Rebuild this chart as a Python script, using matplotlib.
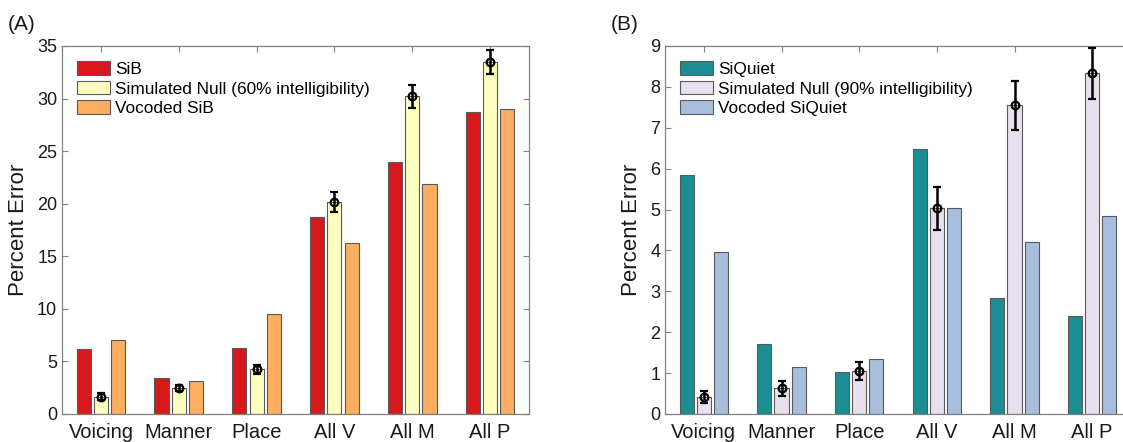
import matplotlib
matplotlib.use("Agg")
import matplotlib.pyplot as plt
import numpy as np

plt.rcParams['font.family'] = ['Liberation Sans', 'DejaVu Sans']

categories = ["Voicing", "Manner", "Place", "All V", "All M", "All P"]

# Panel A
a_sib = [6.2, 3.45, 6.3, 18.7, 24.0, 28.7]
a_null = [1.65, 2.47, 4.25, 20.2, 30.2, 33.5]
a_null_err = [0.3, 0.3, 0.45, 0.95, 1.1, 1.15]
a_voc = [7.0, 3.15, 9.5, 16.3, 21.9, 29.0]
a_labels = ["SiB", "Simulated Null (60% intelligibility)", "Vocoded SiB"]
a_colors = ["#D7191C", "#FFFFBF", "#FDAE61"]

# Panel B
b_quiet = [5.85, 1.72, 1.03, 6.47, 2.83, 2.4]
b_null = [0.42, 0.63, 1.05, 5.03, 7.55, 8.33]
b_null_err = [0.15, 0.18, 0.22, 0.52, 0.6, 0.62]
b_voc = [3.95, 1.15, 1.35, 5.05, 4.2, 4.85]
b_labels = ["SiQuiet", "Simulated Null (90% intelligibility)", "Vocoded SiQuiet"]
b_colors = ["#1B8E93", "#E9E0EF", "#A7BEDC"]

W, H = 1123, 442
fig = plt.figure(figsize=(W / 100, H / 100), dpi=100)

def make_axes(left_px, right_px):
    return fig.add_axes([left_px / W, 1 - 414 / H, (right_px - left_px) / W, (414 - 46) / H])

def panel(ax, s1, s2, err, s3, labels, colors, ymax, yticks, tag):
    x = np.arange(1, len(categories) + 1)
    off = 0.222
    w = 0.182
    ec = "#5a5a5a"
    b1 = ax.bar(x - off, s1, w, color=colors[0], edgecolor=ec, linewidth=0.8, label=labels[0], zorder=2)
    b2 = ax.bar(x, s2, w, color=colors[1], edgecolor=ec, linewidth=0.8, label=labels[1], zorder=2)
    b3 = ax.bar(x + off, s3, w, color=colors[2], edgecolor=ec, linewidth=0.8, label=labels[2], zorder=2)
    ax.errorbar(x, s2, yerr=err, fmt='o', color='black', mfc='none', mec='black',
                ms=5.5, mew=1.6, elinewidth=1.8, capsize=3.2, capthick=1.8, zorder=3)
    ax.set_xlim(0.5, 6.5)
    ax.set_ylim(0, ymax)
    ax.set_yticks(yticks)
    ax.set_xticks(x)
    ax.set_xticklabels(categories, fontsize=14.5, color="#1a1a1a")
    ax.tick_params(axis='y', labelsize=13, labelcolor="#1a1a1a")
    ax.tick_params(direction='in', top=True, right=True, length=4, color="#808080", width=0.8)
    ax.tick_params(axis='x', pad=6.5)
    for sp in ax.spines.values():
        sp.set_color("#808080")
        sp.set_linewidth(0.9)
    ax.set_ylabel("Percent Error", fontsize=16, color="#1a1a1a", labelpad=6)
    leg = ax.legend(handles=[b1, b2, b3], loc='upper left', bbox_to_anchor=(15 / 467, 0.958),
                    frameon=False, fontsize=12.4, handlelength=1.9, handleheight=0.85,
                    handletextpad=0.3, labelspacing=0.2, borderpad=0, borderaxespad=0)
    for p in leg.get_patches():
        p.set_edgecolor(ec)
    fig.text(ax.get_position().x0 - 54 / W, 1 - 24 / H, tag, fontsize=15, va='center', ha='left',
             color="#1a1a1a")

axA = make_axes(62, 529)
panel(axA, a_sib, a_null, a_null_err, a_voc, a_labels, a_colors, 35, range(0, 36, 5), "(A)")
axB = make_axes(665, 1131)
panel(axB, b_quiet, b_null, b_null_err, b_voc, b_labels, b_colors, 9, range(0, 10), "(B)")

fig.savefig("out.png", dpi=100)
